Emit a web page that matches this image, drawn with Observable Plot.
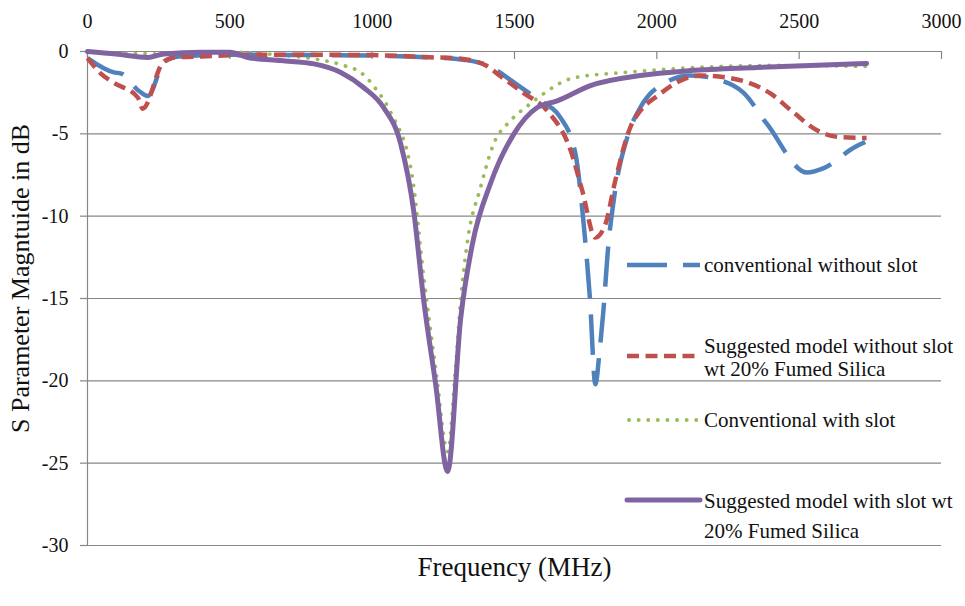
<!DOCTYPE html>
<html>
<head>
<meta charset="utf-8">
<script src="https://cdn.jsdelivr.net/npm/d3@7"></script>
<script src="https://cdn.jsdelivr.net/npm/@observablehq/plot@0.6"></script>
<style>
  html, body { margin: 0; padding: 0; background: #fff; }
  #wrap { position: relative; width: 965px; height: 606px; font-family: "Liberation Serif", "Times New Roman", serif; }
  #wrap svg { display: block; }
  .lg-text { position: absolute; left: 704px; font-size: 21px; line-height: 21px; color: #111; white-space: nowrap; transform: translateY(-50%); }
  .lg-sw { position: absolute; left: 625px; width: 80px; height: 12px; transform: translateY(-50%); overflow: visible; }
</style>
</head>
<body>
<div id="wrap"></div>
<script>
// ---- tick labels / axes ----
const xTicks = [0, 500, 1000, 1500, 2000, 2500, 3000];
const yTicks = [0, -5, -10, -15, -20, -25, -30];
const xTitle = "Frequency (MHz)";
const yTitle = "S Parameter Magntuide in dB";

// ---- series names ----
const seriesNames = [
  "conventional without slot",
  "Suggested model without slot wt 20% Fumed Silica",
  "Conventional with slot",
  "Suggested model with slot wt 20% Fumed Silica"
];

// ---- conventional without slot (blue long dash) ----
const freqConvNoSlot = [0, 93, 118, 181, 212, 268, 320, 500, 800, 1000, 1200, 1320, 1400, 1500, 1580, 1661, 1714, 1742, 1765, 1784, 1800, 1812, 1830, 1848, 1900, 1942, 2023, 2118, 2223, 2304, 2387, 2528, 2584, 2696, 2732];
const sConvNoSlot    = [-0.4, -1.27, -1.34, -2.4, -2.7, -0.67, -0.3, -0.2, -0.22, -0.25, -0.35, -0.5, -0.8, -1.9, -2.9, -4.0, -6.2, -10.3, -15.0, -20.2, -18.0, -15.8, -11.7, -9.1, -5.0, -3.4, -1.95, -1.45, -1.75, -2.5, -4.4, -7.35, -7.1, -5.8, -5.5];

// ---- suggested model without slot (red dash) ----
const freqSugNoSlot = [0, 47, 93, 177, 194, 265, 304, 400, 600, 800, 1000, 1200, 1300, 1350, 1400, 1451, 1530, 1615, 1697, 1738, 1784, 1819, 1854, 1907, 1942, 2002, 2083, 2153, 2269, 2399, 2480, 2564, 2643, 2737];
const sSugNoSlot    = [-0.4, -1.34, -1.9, -2.8, -3.47, -0.67, -0.36, -0.3, -0.2, -0.2, -0.22, -0.35, -0.42, -0.55, -0.85, -1.5, -2.5, -3.6, -6.0, -8.45, -11.3, -10.5, -7.85, -4.6, -3.6, -2.7, -1.77, -1.46, -1.65, -2.55, -3.7, -4.8, -5.2, -5.25];

// ---- conventional with slot (green dotted) ----
const freqConvSlot = [0, 100, 300, 500, 700, 800, 900, 960, 1012, 1065, 1140, 1180, 1225, 1265, 1293, 1311, 1335, 1380, 1427, 1486, 1546, 1591, 1708, 1883, 2059, 2410, 2737];
const sConvSlot    = [0, -0.1, -0.15, -0.05, -0.25, -0.45, -0.85, -1.27, -2.25, -3.7, -7.5, -13.5, -19.5, -24.3, -19.2, -15.1, -11.5, -8.3, -5.6, -4.2, -3.3, -2.7, -1.6, -1.28, -1.05, -0.85, -0.9];

// ---- suggested model with slot (purple solid) ----
const freqSugSlot = [0, 100, 212, 268, 400, 500, 563, 679, 796, 890, 971, 1040, 1100, 1146, 1181, 1223, 1265, 1311, 1352, 1416, 1498, 1580, 1650, 1767, 1942, 2118, 2352, 2737];
const sSugSlot    = [0, -0.15, -0.36, -0.15, -0.05, -0.05, -0.36, -0.55, -0.75, -1.27, -2.2, -3.4, -5.6, -9.7, -15.1, -20.2, -25.5, -16.2, -11.7, -8.0, -5.0, -3.4, -3.0, -2.07, -1.46, -1.16, -0.97, -0.73];

const colors = ["#4f81bd", "#c0504d", "#9bbb59", "#8064a2"];
const dashes = ["40,16", "12,6.5", "0.1,9.5", null];
const widths = [4.5, 4.5, 3.8, 5];
const caps = ["butt", "butt", "round", "round"];

const toRows = (xs, ys) => xs.map((x, i) => ({x, y: ys[i]}));
const series = [
  toRows(freqConvNoSlot, sConvNoSlot),
  toRows(freqSugNoSlot, sSugNoSlot),
  toRows(freqConvSlot, sConvSlot),
  toRows(freqSugSlot, sSugSlot)
];

const gray = "#878787";
const font = "Liberation Serif";

const lineMarks = [2, 0, 1, 3].map(i => Plot.line(series[i], {
  x: "x", y: "y",
  stroke: colors[i], strokeWidth: widths[i],
  strokeDasharray: dashes[i] || undefined,
  strokeLinecap: caps[i], strokeLinejoin: "round",
  curve: "monotone-x"
}));

const chart = Plot.plot({
  width: 965,
  height: 606,
  marginLeft: 87,
  marginRight: 24,
  marginTop: 51,
  marginBottom: 61,
  style: { fontFamily: font, color: "#111", background: "#fff" },
  x: { domain: [0, 3000] },
  y: { domain: [-30, 0] },
  marks: [
    Plot.gridY(yTicks, { stroke: gray, strokeOpacity: 1, strokeWidth: 1.2 }),
    Plot.ruleX([0], { stroke: gray, strokeWidth: 1.2 }),
    Plot.ruleX(xTicks, { stroke: gray, strokeWidth: 1.2, insetBottom: 486 }),
    Plot.axisX(xTicks, { anchor: "top", tickSize: 0, tickPadding: 24, fontSize: 20, label: null, tickFormat: d => String(d), fill: "#111" }),
    Plot.axisY(yTicks, { anchor: "left", tickSize: 7, tickPadding: 12, fontSize: 20, label: null, stroke: gray, strokeWidth: 1.2, tickFormat: d => String(d), fill: "#111" }),
    ...lineMarks,
    Plot.text([xTitle], { frameAnchor: "bottom", textAnchor: "middle", dy: 30, fontSize: 27, fill: "#111" }),
    Plot.text([yTitle], { frameAnchor: "left", textAnchor: "middle", rotate: -90, dx: -67, dy: -20, fontSize: 26, fill: "#111" })
  ]
});

const wrap = document.getElementById("wrap");
wrap.appendChild(chart);

// ---- legend (inside plot area, HTML overlay) ----
const legendRows = [
  { i: 0, swY: 265, lines: [[seriesNames[0], 265]] },
  { i: 1, swY: 356, lines: [["Suggested model without slot", 346], ["wt 20% Fumed Silica", 369]] },
  { i: 2, swY: 420, lines: [[seriesNames[2], 420]] },
  { i: 3, swY: 500, lines: [["Suggested model with slot wt", 501], ["20% Fumed Silica", 531]] }
];
for (const r of legendRows) {
  const sw = document.createElementNS("http://www.w3.org/2000/svg", "svg");
  sw.setAttribute("class", "lg-sw");
  sw.setAttribute("width", 80);
  sw.setAttribute("height", 12);
  sw.style.top = r.swY + "px";
  const ln = document.createElementNS("http://www.w3.org/2000/svg", "line");
  ln.setAttribute("x1", r.i === 2 ? 4 : 2);
  ln.setAttribute("x2", 75);
  ln.setAttribute("y1", 6);
  ln.setAttribute("y2", 6);
  ln.setAttribute("stroke", colors[r.i]);
  ln.setAttribute("stroke-width", widths[r.i]);
  ln.setAttribute("stroke-linecap", caps[r.i]);
  if (dashes[r.i]) ln.setAttribute("stroke-dasharray", dashes[r.i]);
  sw.appendChild(ln);
  wrap.appendChild(sw);
  for (const [t, y] of r.lines) {
    const d = document.createElement("div");
    d.className = "lg-text";
    d.style.top = y + "px";
    d.textContent = t;
    wrap.appendChild(d);
  }
}
</script>
</body>
</html>
